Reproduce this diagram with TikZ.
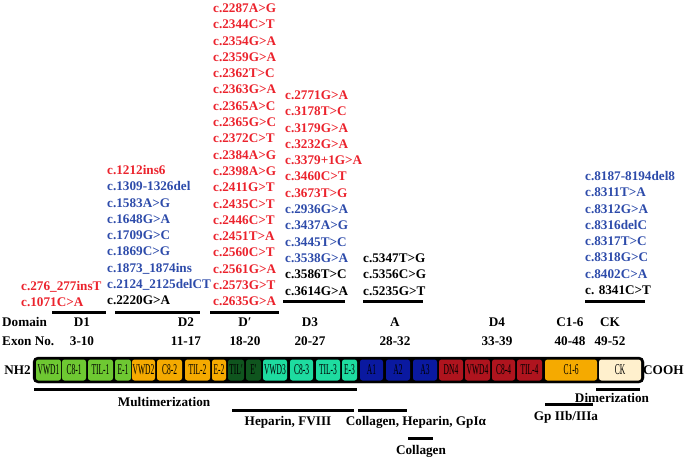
\documentclass[tikz,border=0pt]{standalone}
\usepackage{fontspec}
\setmainfont{Liberation Serif}

\definecolor{mred}{RGB}{235,35,45}
\definecolor{mblue}{RGB}{45,75,170}
\definecolor{mblack}{RGB}{0,0,0}
\definecolor{vgreen}{RGB}{110,200,50}
\definecolor{vorange}{RGB}{245,170,0}
\definecolor{vdgreen}{RGB}{15,85,30}
\definecolor{vmint}{RGB}{30,220,160}
\definecolor{vnavy}{RGB}{10,25,160}
\definecolor{vred}{RGB}{175,20,30}
\definecolor{vcream}{RGB}{255,240,205}

\tikzset{
  mut/.style={font=\bfseries\fontsize{13.2}{16}\selectfont, inner sep=0pt, anchor=base west},
  lbl/.style={font=\bfseries\fontsize{13.2}{16}\selectfont, inner sep=0pt},
  dombox/.style={rounded corners=2.5pt, minimum height=21pt, inner sep=0pt,
    font=\fontsize{15}{15}\selectfont},
  uline/.style={line width=3pt},
}
\newcommand{\narrow}[1]{\scalebox{0.5}[1]{#1}}

\begin{document}
\begin{tikzpicture}[x=1pt,y=-1pt]
\useasboundingbox (0,0) rectangle (685,461);
%Mutations
\foreach \c/\m [count=\i] in {mred/c.276\_277insT, mred/c.1071C>A}
  \node[mut, text=\c] (mutA\i) at (21,{290.4+(\i-1)*16.3}) {\m};
\foreach \c/\m [count=\i] in {mred/c.1212ins6, mblue/c.1309-1326del, mblue/c.1583A>G,
    mblue/c.1648G>A, mblue/c.1709G>C, mblue/c.1869C>G, mblue/c.1873\_1874ins,
    mblue/c.2124\_2125delCT, mblack/c.2220G>A}
  \node[mut, text=\c] (mutB\i) at (107,{174.4+(\i-1)*16.3}) {\m};
\foreach \m [count=\i] in {c.2287A>G, c.2344C>T, c.2354G>A, c.2359G>A, c.2362T>C,
    c.2363G>A, c.2365A>C, c.2365G>C, c.2372C>T, c.2384A>G, c.2398A>G, c.2411G>T,
    c.2435C>T, c.2446C>T, c.2451T>A, c.2560C>T, c.2561G>A, c.2573G>T, c.2635G>A}
  \node[mut, text=mred] (mutC\i) at (213,{12.4+(\i-1)*16.3}) {\m};
\foreach \c/\m [count=\i] in {mred/c.2771G>A, mred/c.3178T>C, mred/c.3179G>A,
    mred/c.3232G>A, mred/c.3379+1G>A, mred/c.3460C>T, mred/c.3673T>G,
    mblue/c.2936G>A, mblue/c.3437A>G, mblue/c.3445T>C, mblue/c.3538G>A,
    mblack/c.3586T>C, mblack/c.3614G>A}
  \node[mut, text=\c] (mutD\i) at (285,{99.4+(\i-1)*16.3}) {\m};
\foreach \m [count=\i] in {c.5347T>G, c.5356C>G, c.5235G>T}
  \node[mut] (mutE\i) at (363,{262.4+(\i-1)*16.3}) {\m};
\foreach \c/\m [count=\i] in {mblue/c.8187-8194del8, mblue/c.8311T>A, mblue/c.8312G>A,
    mblue/c.8316delC, mblue/c.8317T>C, mblue/c.8318G>C, mblue/c.8402C>A,
    mblack/c. 8341C>T}
  \node[mut, text=\c] (mutF\i) at (585,{180.4+(\i-1)*16.3}) {\m};
%Underlines
\draw[uline] (52,312) -- (106,312);
\draw[uline] (115,312) -- (200,312);
\draw[uline] (210,312) -- (279,312);
\draw[uline] (283,301) -- (345,301);
\draw[uline] (363,301) -- (423,301);
\draw[uline] (585,301) -- (645,301);
%Domains and exons
\node[lbl, anchor=west] (dom) at (2,322) {Domain};
\node[lbl, anchor=west] (exon) at (2,341) {Exon No.};
\foreach \n/\d/\e/\x in {d1/D1/3-10/82, d2/D2/11-17/186, dp/D′/18-20/245,
    d3/D3/20-27/310, a/A/28-32/395, d4/D4/33-39/497, c/C1-6/40-48/570, ck/CK/49-52/610}
{
  \node[lbl] (\n) at (\x,322) {\d};
  \node[lbl] (\n x) at (\x,341) {\e};
}
%Protein
\node[lbl, anchor=east] (nh) at (31,370) {NH2};
\node[lbl, anchor=west] (cooh) at (643,370) {COOH};
\draw[fill=black, rounded corners=5pt] (33,357) rectangle (644,383);
\foreach \a/\b/\t/\c [count=\i] in {36/61/VWD1/vgreen, 62/86/C8-1/vgreen,
    88/113/TIL-1/vgreen, 115/131/E-1/vgreen, 132/155/VWD2/vorange, 157/182/C8-2/vorange,
    185/210/TIL-2/vorange, 212/226/E-2/vorange, 228/244/TIL′/vdgreen, 246/261/E′/vdgreen,
    263/287/VWD3/vmint, 290/313/C8-3/vmint, 316/340/TIL-3/vmint, 342/357/E-3/vmint,
    360/383/A1/vnavy, 386/410/A2/vnavy, 413/437/A3/vnavy, 439/463/DN4/vred,
    465/490/VWD4/vred, 492/515/C8-4/vred, 517/542/TIL-4/vred, 545/597/C1-6/vorange,
    599/641/CK/vcream}
{
  \pgfmathsetmacro\w{\b-\a}
  \node[dombox, fill=\c, minimum width=\w pt] (box\i) at ({(\a+\b)/2},370) {\narrow{\t}};
}
%Functions
\draw[uline] (34,389) -- (357,389);
\node[lbl] (multi) at (164,402) {Multimerization};
\draw[uline] (232,410) -- (354,410);
\node[lbl] (hep) at (288,422) {Heparin, FVIII};
\draw[uline] (358,410) -- (407,410);
\node[lbl] (colhep) at (416,422) {Collagen, Heparin, GpIα};
\draw[uline] (408,438) -- (433,438);
\node[lbl] (col) at (421,451) {Collagen};
\draw[uline] (545,404) -- (593,404);
\node[lbl] (gp) at (566,417) {Gp IIb/IIIa};
\draw[uline] (596,389) -- (640,389);
\node[lbl] (dimer) at (612,398) {Dimerization};
\end{tikzpicture}
\end{document}
